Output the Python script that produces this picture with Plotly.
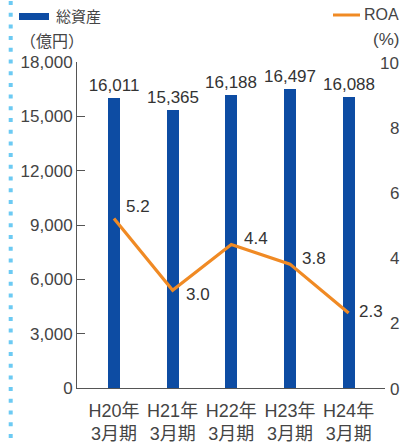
import plotly.graph_objects as go

# ---- data ----
categories = ["H20年<br>3月期", "H21年<br>3月期", "H22年<br>3月期", "H23年<br>3月期", "H24年<br>3月期"]
total_assets = [16011, 15365, 16188, 16497, 16088]
roa = [5.2, 3.0, 4.4, 3.8, 2.3]
left_ticks = [0, 3000, 6000, 9000, 12000, 15000, 18000]
right_ticks = [0, 2, 4, 6, 8, 10]
roa_label_shift = [(10, 12), (11, -4), (11, 6), (10, 6), (8, 2)]

W, H = 404, 443
ML, MR, MT, MB = 77, 19, 62, 55
PW, PH = W - ML - MR, H - MT - MB

def px(x):
    return (x - ML) / PW

def py(y):
    return (H - MB - y) / PH

FONT = "Liberation Sans, Noto Sans CJK JP, sans-serif"
CJK = "Noto Sans CJK JP, sans-serif"
BLUE = "#0d4ca3"
ORANGE = "#f08a24"
TXT = "#333333"

xs = list(range(len(categories)))

fig = go.Figure()
fig.add_trace(go.Bar(
    x=xs, y=total_assets, width=0.205, marker=dict(color=BLUE, line=dict(width=0)),
    text=[f"{v:,}" for v in total_assets], textposition="outside", constraintext="none",
    textfont=dict(size=17, color=TXT, family=FONT), cliponaxis=False,
    showlegend=False,
))
fig.add_trace(go.Scatter(
    x=xs, y=roa, yaxis="y2", mode="lines",
    line=dict(color=ORANGE, width=3.2), showlegend=False, cliponaxis=False,
))

annotations = []
for i, (v, (dx, dy)) in enumerate(zip(roa, roa_label_shift)):
    annotations.append(dict(
        x=i, y=v, xref="x", yref="y2", text=f"{v:.1f}", showarrow=False,
        xanchor="left", yanchor="middle", xshift=dx, yshift=dy,
        font=dict(size=17, color=TXT, family=FONT),
    ))
for t in right_ticks:
    annotations.append(dict(
        x=1, y=t, xref="paper", yref="y2", text=str(t), showarrow=False,
        xanchor="right", yanchor="middle", xshift=16, yshift=-1,
        font=dict(size=17, color="#444444", family=FONT),
    ))
# legend texts
annotations += [
    dict(x=px(54), y=py(16), xref="paper", yref="paper", text="総資産", showarrow=False,
         xanchor="left", yanchor="middle", font=dict(size=15, color="#444444", family=CJK)),
    dict(x=px(18), y=py(40), xref="paper", yref="paper", text="（億円）", showarrow=False,
         xanchor="left", yanchor="middle", font=dict(size=16, color="#444444", family=CJK)),
    dict(x=px(401), y=py(15), xref="paper", yref="paper", text="ROA", showarrow=False,
         xanchor="right", yanchor="middle", font=dict(size=16, color="#444444", family=FONT)),
    dict(x=px(401), y=py(40), xref="paper", yref="paper", text="(%)", showarrow=False,
         xanchor="right", yanchor="middle", font=dict(size=17, color="#444444", family=FONT)),
]

shapes = [
    dict(type="rect", xref="paper", yref="paper", x0=px(19), x1=px(49), y0=py(20), y1=py(13),
         fillcolor=BLUE, line=dict(width=0)),
    dict(type="line", xref="paper", yref="paper", x0=px(333), x1=px(360), y0=py(15), y1=py(15),
         line=dict(color=ORANGE, width=3)),
    dict(type="line", xref="paper", yref="paper", x0=px(10.7), x1=px(10.7), y0=py(1), y1=py(443),
         line=dict(color="#6ccaf3", width=4, dash="4px,7.7px")),
]

fig.update_layout(
    width=W, height=H, margin=dict(l=ML, r=MR, t=MT, b=MB, pad=0, autoexpand=False),
    paper_bgcolor="white", plot_bgcolor="white",
    font=dict(family=FONT, size=17, color="#444444"),
    xaxis=dict(
        range=[-0.63, 4.62], tickvals=xs, ticktext=categories, showgrid=False, zeroline=False,
        showline=True, linecolor="#555555", linewidth=1, ticks="", ticklabelstandoff=6,
        automargin=False, tickfont=dict(size=18, color="#444444", family=FONT),
    ),
    yaxis=dict(
        range=[0, 18000], tickvals=left_ticks, ticktext=[f"{t:,}" for t in left_ticks],
        showgrid=False, zeroline=False, showline=True, linecolor="#555555", linewidth=1,
        ticks="inside", ticklen=8, tickcolor="#555555", tickwidth=1, automargin=False,
        tickfont=dict(size=17, color="#444444", family=FONT),
    ),
    yaxis2=dict(
        range=[0, 10], overlaying="y", side="right", showgrid=False, zeroline=False,
        showline=False, showticklabels=False, ticks="", automargin=False,
    ),
    annotations=annotations, shapes=shapes, bargap=0,
)

fig.write_html("out.html")
